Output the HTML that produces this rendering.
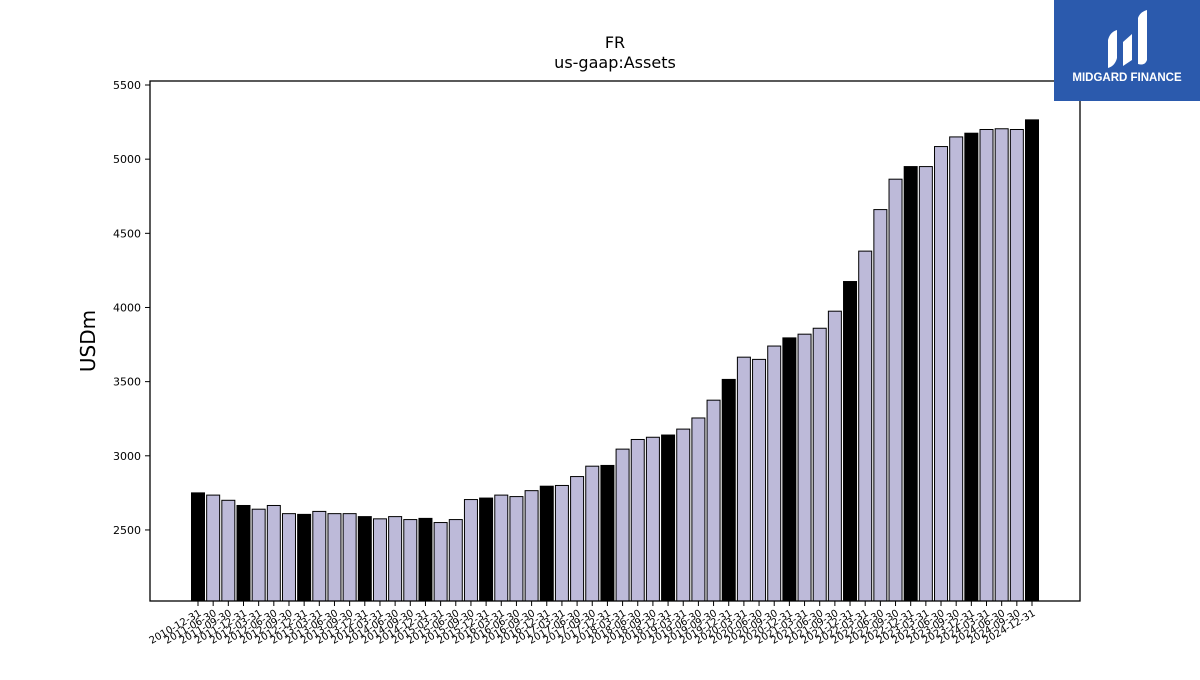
<!DOCTYPE html>
<html><head><meta charset="utf-8"><style>
body{margin:0;background:#fff;width:1200px;height:675px;overflow:hidden;font-family:"Liberation Sans","DejaVu Sans",sans-serif}
</style></head><body>
<svg id="chart" width="1200" height="675" xmlns="http://www.w3.org/2000/svg" font-family="DejaVu Sans, Liberation Sans, sans-serif">
<text x="615" y="48" font-size="16" text-anchor="middle">FR</text>
<text x="615" y="68" font-size="16" text-anchor="middle">us-gaap:Assets</text>
<text transform="translate(95,341) rotate(-90)" font-size="20" text-anchor="middle">USDm</text>
<g id="bars"></g>
<g id="yticks"></g>
<g id="xticks"></g>
<rect x="150" y="81" width="930" height="520" fill="none" stroke="#000" stroke-width="1.3"/>
<g>
<rect x="1054" y="0" width="146" height="101" fill="#2b5aad"/>
<path d="M1108 68 L1108 40 Q1110 32 1117 30 L1117 58 Q1115 66 1108 68Z M1123 66 L1123 42 L1132 34 L1132 60Z M1138 64 L1138 18 Q1140 12 1147 10 L1147 60 Q1145 66 1138 64Z" fill="#fff"/>
<text x="1127" y="81" font-size="11.5" font-weight="bold" fill="#fff" text-anchor="middle" font-family="Liberation Sans, sans-serif">MIDGARD FINANCE</text>
</g>
</svg>
<script>
const categories=["2010-12-31","2011-06-30","2011-09-30","2011-12-31","2012-03-31","2012-06-30","2012-09-30","2012-12-31","2013-03-31","2013-06-30","2013-09-30","2013-12-31","2014-03-31","2014-06-30","2014-09-30","2014-12-31","2015-03-31","2015-06-30","2015-09-30","2015-12-31","2016-03-31","2016-06-30","2016-09-30","2016-12-31","2017-03-31","2017-06-30","2017-09-30","2017-12-31","2018-03-31","2018-06-30","2018-09-30","2018-12-31","2019-03-31","2019-06-30","2019-09-30","2019-12-31","2020-03-31","2020-06-30","2020-09-30","2020-12-31","2021-03-31","2021-06-30","2021-09-30","2021-12-31","2022-03-31","2022-06-30","2022-09-30","2022-12-31","2023-03-31","2023-06-30","2023-09-30","2023-12-31","2024-03-31","2024-06-30","2024-09-30","2024-12-31"];
const values=[2750,2735,2700,2665,2640,2665,2610,2605,2625,2610,2610,2590,2575,2590,2570,2578,2550,2570,2705,2715,2735,2725,2765,2795,2800,2860,2930,2935,3045,3110,3125,3140,3180,3255,3375,3515,3665,3650,3740,3795,3820,3860,3975,4175,4380,4660,4865,4950,4950,5085,5150,5175,5200,5205,5200,5265];
const yTicks=[2500,3000,3500,4000,4500,5000,5500];
const yMin=2021, yMax=5527;
const NS="http://www.w3.org/2000/svg";
const px0=150,px1=1080,py0=81,py1=601;
const x0=198, step=(1032-198)/(categories.length-1), bw=13;
function xs(i){return x0+i*step;}
function ys(v){return py1-(v-yMin)/(yMax-yMin)*(py1-py0);}
const bars=document.getElementById('bars'),yt=document.getElementById('yticks'),xt=document.getElementById('xticks');
values.forEach((v,i)=>{
  const r=document.createElementNS(NS,'rect');
  
  
  const y=ys(v);
  r.setAttribute('x',xs(i)-bw/2);r.setAttribute('y',y);r.setAttribute('width',bw);r.setAttribute('height',py1-y);
  r.setAttribute('fill',categories[i].endsWith('12-31')?'#000':'#bdbad9');
  r.setAttribute('stroke','#000');r.setAttribute('stroke-width','1');
  bars.appendChild(r);
  const t=document.createElementNS(NS,'line');
  
  
  t.setAttribute('x1',xs(i));t.setAttribute('x2',xs(i));t.setAttribute('y1',py1);t.setAttribute('y2',py1+5);t.setAttribute('stroke','#000');
  xt.appendChild(t);
  const l=document.createElementNS(NS,'text');
  
  
  l.setAttribute('font-size','10');l.setAttribute('text-anchor','end');
  l.setAttribute('transform','translate('+(xs(i)+4)+','+(py1+14)+') rotate(-30)');
  l.textContent=categories[i];
  xt.appendChild(l);
});
yTicks.forEach(v=>{
  const y=ys(v);
  const t=document.createElementNS(NS,'line');
  
  
  t.setAttribute('x1',px0-5);t.setAttribute('x2',px0);t.setAttribute('y1',y);t.setAttribute('y2',y);t.setAttribute('stroke','#000');
  yt.appendChild(t);
  const l=document.createElementNS(NS,'text');
  
  
  l.setAttribute('x',px0-9);l.setAttribute('y',y+4);l.setAttribute('font-size','11');l.setAttribute('text-anchor','end');
  l.textContent=v;
  yt.appendChild(l);
});
</script>
</body></html>
